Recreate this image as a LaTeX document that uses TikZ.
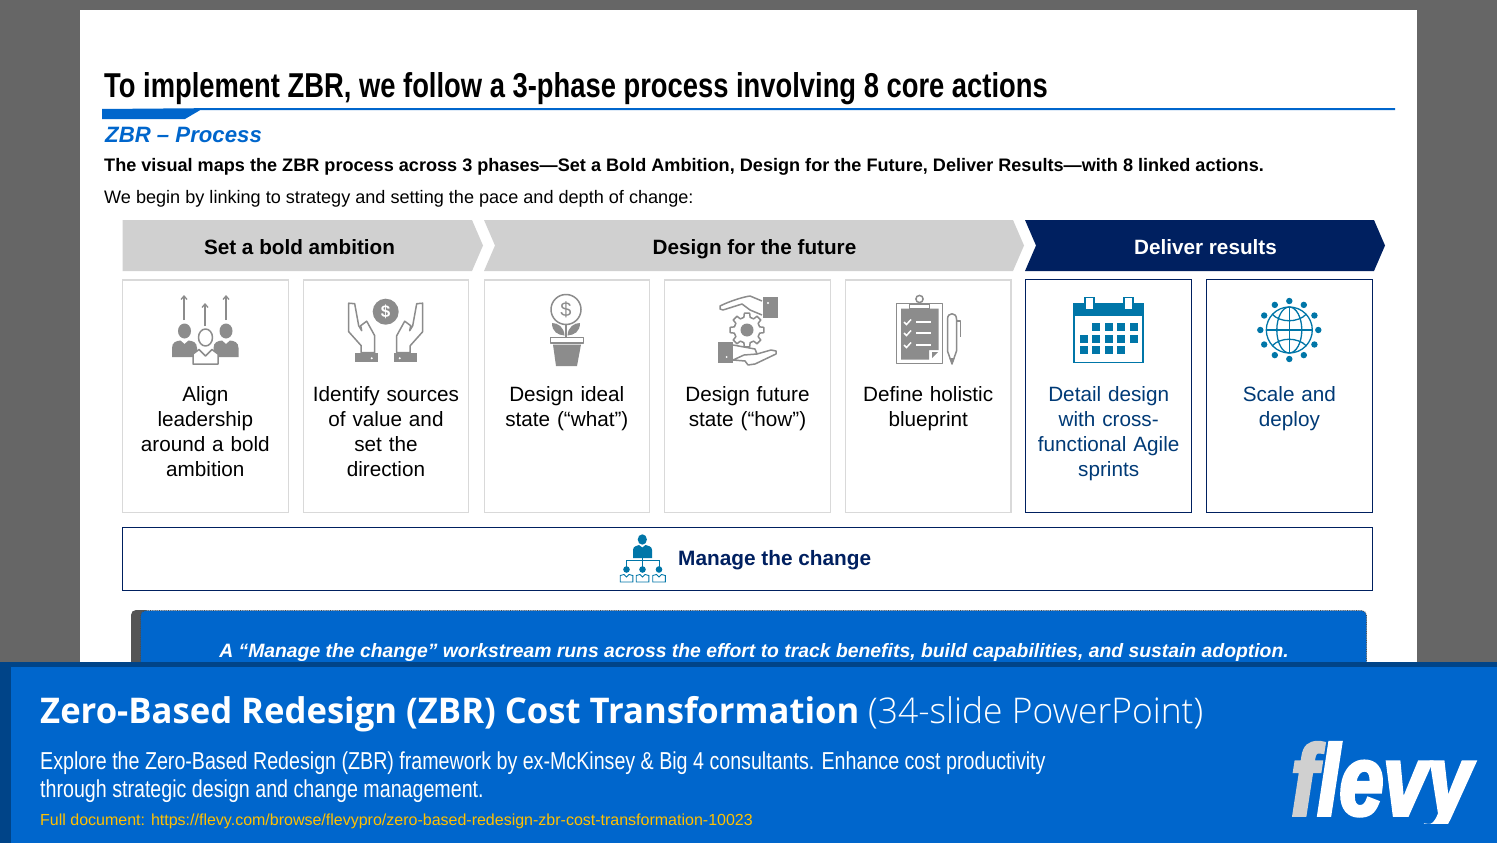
\documentclass[tikz,border=0pt]{standalone}
\usepackage{fontspec}
\setmainfont{Liberation Sans}
\newfontfamily\titlefont[FakeStretch=0.793]{Liberation Sans}
\newfontfamily\narrowfont[FakeStretch=0.802]{Liberation Sans}
\newfontfamily\lightfont[UprightFont=* Light]{Open Sans}
\newfontfamily\bannerfont[FakeStretch=0.979]{Open Sans}
\newfontfamily\logofont[FakeStretch=0.79,FakeBold=3.5]{Liberation Sans}
\usetikzlibrary{arrows.meta}

\definecolor{slidegray}{HTML}{666666}
\definecolor{flevyblue}{HTML}{0066CC}
\definecolor{flevydark}{HTML}{004488}
\definecolor{phasegray}{HTML}{D0D0D0}
\definecolor{navyblue}{HTML}{002060}
\definecolor{cardgray}{HTML}{D9D9D9}
\definecolor{icongray}{HTML}{8C8C8C}
\definecolor{iconteal}{HTML}{0076A8}
\definecolor{linkyellow}{HTML}{FFC000}

\tikzset{
  phasetext/.style={font=\bfseries\fontsize{20.7}{25}\selectfont, inner sep=0pt, anchor=base},
  card/.style={draw=cardgray, line width=1.1pt, fill=white, minimum width=165.5pt, minimum height=232.5pt, inner sep=0pt},
  bluecard/.style={card, draw=navyblue, line width=1pt},
  cardtext/.style={font=\fontsize{20.7}{25}\selectfont, text width=160pt, align=center, anchor=north, inner sep=0pt},
  bluetext/.style={cardtext, text=navyblue!70!iconteal},
  plaintext/.style={anchor=base west, inner sep=0pt},
  grayline/.style={draw=icongray, line width=1.5pt, line join=round},
  tealline/.style={draw=iconteal, line width=1.3pt},
  hand/.pic={
    \draw[grayline, fill=white] (-37,-8.5) -- (-37,20) -- (-24.5,34) -- (-24.5,41) -- (-11,41) -- (-11,24) -- (-19,9.5)
       -- (-25,14) -- (-24,19) -- (-27,14) -- (-31,-8) -- cycle;
    \fill[icongray] (-31,41.5) rectangle (-8,50.5);
    \fill[white] (-14,46.5) circle (1.1);
  },
}

\begin{document}
\begin{tikzpicture}[x=1pt,y=-1pt]
\useasboundingbox (0,0) rectangle (1497,843);

%% Slide %%%%%%%%%%%%%%%%%%%%%%%
\fill[slidegray] (0,0) rectangle (1497,843);
\fill[white] (80,10) rectangle (1417,670);

\node[plaintext, font=\titlefont\bfseries\fontsize{34.5}{40}\selectfont] (title) at (104,97) {To implement ZBR, we follow a 3-phase process involving 8 core actions};
\fill[flevyblue] (102,109) -- (200,108.2) -- (1395,108.2) -- (1395,110) -- (200,110.2) -- (185,119) -- (102,119) -- cycle;
\node[plaintext, font=\bfseries\itshape\fontsize{22.2}{28}\selectfont, text=flevyblue] (subtitle) at (105,142) {ZBR – Process};
\node[plaintext, font=\bfseries\fontsize{18.1}{22}\selectfont] (summary) at (104,171) {The visual maps the ZBR process across 3 phases—Set a Bold Ambition, Design for the Future, Deliver Results—with 8 linked actions.};
\node[plaintext, font=\fontsize{18.1}{22}\selectfont] (intro) at (104,203) {We begin by linking to strategy and setting the pace and depth of change:};

%% Phases
\fill[phasegray] (122.5,220) -- (472,220) -- (483,245.5) -- (472,271) -- (122.5,271) -- cycle;
\fill[phasegray] (484,220) -- (1013,220) -- (1024,245.5) -- (1013,271) -- (484,271) -- (495,245.5) -- cycle;
\fill[navyblue] (1025,220) -- (1374,220) -- (1385,245.5) -- (1374,271) -- (1025,271) -- (1036,245.5) -- cycle;
\node[phasetext] (bold) at (299.5,254) {Set a bold ambition};
\node[phasetext] (design) at (754.5,254) {Design for the future};
\node[phasetext, text=white] (deliver) at (1205.5,254) {Deliver results};

%% Cards
\node[card] (align) at (205.3,396.2) {};
\node[card] (identify) at (386,396.2) {};
\node[card] (ideal) at (566.8,396.2) {};
\node[card] (future) at (747.5,396.2) {};
\node[card] (define) at (928.2,396.2) {};
\node[bluecard] (detail) at (1108.7,396.2) {};
\node[bluecard] (scale) at (1289.4,396.2) {};

\node[cardtext] (aligntext) at (205.3,386) {Align\\leadership\\around a bold\\ambition};
\node[cardtext] (identifytext) at (386,386) {Identify sources\\of value and\\set the\\direction};
\node[cardtext] (idealtext) at (566.8,386) {Design ideal\\state (“what”)};
\node[cardtext] (futuretext) at (747.5,386) {Design future\\state (“how”)};
\node[cardtext] (definetext) at (928.2,386) {Define holistic\\blueprint};
\node[bluetext] (detailtext) at (1108.7,386) {Detail design\\with cross-\\functional Agile\\sprints};
\node[bluetext] (scaletext) at (1289.4,386) {Scale and\\deploy};

%% Icon people
\foreach \xpos/\ytop/\ybot in {184/295/320,205/303/326,226/295/320}
  \draw[icongray, line width=1.3pt, -{Straight Barb[length=3.5pt,width=6pt]}] (\xpos,\ybot) -- (\xpos,\ytop);
\foreach \xpos in {184.5,226} {
  \fill[icongray] (\xpos,331) ellipse (6.5 and 7.5);
  \fill[icongray] (\xpos-12.5,357) -- (\xpos-12.5,348) .. controls (\xpos-12.5,342) and (\xpos-8,341) .. (\xpos-4,340.5) -- (\xpos,344) -- (\xpos+4,340.5) .. controls (\xpos+8,341) and (\xpos+12.5,342) .. (\xpos+12.5,348) -- (\xpos+12.5,357) -- cycle;
}
\draw[grayline, fill=white] (193,364) -- (193,354) -- (199,349.5) -- (205.5,356) -- (212,349.5) -- (218,354) -- (218,364) -- cycle;
\draw[grayline, fill=white] (205.5,337.5) ellipse (7 and 8.5);

%% Icon hands
\fill[icongray] (385.7,311.7) circle (13);
\node[font=\bfseries\fontsize{17}{17}\selectfont, text=white, inner sep=0pt] (dollar) at (385.7,311.7) {\$};
\pic at (385.7,311.7) {hand};
\pic[xscale=-1] at (385.7,311.7) {hand};

%% Icon plant
\draw[grayline, fill=white] (566,309.5) circle (15);
\node[font=\fontsize{20}{20}\selectfont, text=icongray, inner sep=0pt] (plantdollar) at (566,309.5) {\$};
\draw[grayline] (566,324.5) -- (566,337);
\fill[icongray] (552,323) .. controls (558,323) and (564,327) .. (564.5,335.5) .. controls (558,335) and (552,332) .. cycle;
\fill[icongray] (580,323) .. controls (574,323) and (568,327) .. (567.5,335.5) .. controls (574,335) and (580,332) .. cycle;
\draw[grayline, line width=1.2pt] (550.5,337.5) rectangle (583.5,343);
\fill[icongray] (553,344.5) -- (581,344.5) -- (577,366) -- (556,366) -- cycle;

%% Icon gear
\fill[icongray] (763,297) rectangle (778,318);
\fill[white] (768,303) circle (1.1);
\draw[grayline] (762,301) -- (750,296) .. controls (743,297) and (730,301) .. (720,306) -- (720,309) -- (723,310) -- (742,304) -- (750,310) -- (762,315);
\fill[icongray] (718,342) rectangle (733,363);
\fill[white] (726.6,357) circle (1.1);
\draw[grayline] (733,345) -- (755,349) -- (757,354) -- (744,355) -- (733,360) -- (745,361) -- (748,365) -- (755,364) -- (776,354) -- (776,351) -- (771,350) -- (757,354);
\draw[grayline, shift={(747,330)}] (-14:13) \foreach \ang in {0,45,...,315} { -- (\ang-14:13) -- (\ang-9:17) -- (\ang+9:17) -- (\ang+14:13) } -- cycle;
\fill[icongray] (747,330) circle (6.5);

%% Icon blueprint
\draw[grayline, line width=1.6pt] (896.5,303.5) rectangle (942.5,363.5);
\fill[icongray] (901,308.5) -- (938.5,308.5) -- (938.5,350) -- (929,350) -- (929,359.5) -- (901,359.5) -- cycle;
\fill[icongray] (932,352) -- (938,352) -- (932,358) -- cycle;
\draw[grayline, fill=white] (919.5,299) circle (3.6);
\draw[grayline, fill=white] (909.5,309) -- (909.5,304) -- (929.5,304) -- (929.5,309) -- cycle;
\foreach \ypos in {322,333,345} {
  \draw[white, line width=1.5pt] (904,\ypos) -- (906.5,\ypos+2.5) -- (911,\ypos-2.5);
  \draw[white, line width=1.5pt] (916,\ypos) -- (931,\ypos);
}
\draw[grayline] (947.5,351) -- (947.5,319) .. controls (947.5,312) and (956.5,312) .. (956.5,319) -- (956.5,351) -- (952,364) -- cycle;
\draw[grayline] (956.5,321) -- (960.5,321) -- (960.5,337);
\fill[icongray] (949.5,358) -- (954.5,358) -- (952,364) -- cycle;

%% Icon calendar
\draw[iconteal, line width=1.5pt, fill=white] (1073.8,304) rectangle (1143.2,362.3);
\fill[iconteal] (1073,303) rectangle (1144,316);
\foreach \xpos in {1085,1124}
  \draw[iconteal, line width=1.3pt, fill=white] (\xpos,297.5) rectangle (\xpos+9,309.5);
\foreach \xpos/\ypos in {1096/327,1109/327,1121/327,1134/327,1084/339,1096/339,1109/339,1121/339,1134/339,1084/350,1096/350,1109/350,1121/350}
  \fill[iconteal] (\xpos-4,\ypos-4) rectangle (\xpos+4,\ypos+4);

%% Icon globe
\foreach \ang in {0,30,...,330}
  \fill[iconteal] (1289.3,330) ++(\ang:29) circle (3.2);
\draw[tealline] (1289.3,330) circle (23);
\draw[tealline] (1289.3,330) ellipse (12.5 and 23);
\draw[tealline] (1289.3,307) -- (1289.3,353);
\draw[tealline] (1266.3,330) -- (1312.3,330);
\draw[tealline] (1272,314) .. controls (1280,323) and (1298,323) .. (1306.5,314);
\draw[tealline] (1272,346) .. controls (1280,337) and (1298,337) .. (1306.5,346);

%% Manage the change
\node[draw=navyblue, line width=1pt, fill=white, minimum width=1249.5pt, minimum height=63.5pt, inner sep=0pt] (manage) at (747.3,559) {};
\node[font=\bfseries\fontsize{20.8}{25}\selectfont, text=navyblue, inner sep=0pt, anchor=base west] (managetext) at (678,565) {Manage the change};
\fill[iconteal] (642.3,539.5) ellipse (4.6 and 5.2);
\fill[iconteal] (633,558) -- (633,550) .. controls (633,546) and (637,546) .. (639,545) -- (642.3,547.5) -- (645.5,545) .. controls (648,546) and (652,546) .. (652,550) -- (652,558) -- cycle;
\draw[iconteal, line width=.9pt] (642.3,558) -- (642.3,567);
\draw[iconteal, line width=.9pt] (626.5,567) -- (626.5,560.5) -- (659,560.5) -- (659,567);
\foreach \xpos in {626.5,642.5,659} {
  \fill[iconteal] (\xpos,569.5) circle (3.3);
  \draw[iconteal, line width=.9pt, fill=white] (\xpos-6.3,582) -- (\xpos-6.3,575.5) -- (\xpos-2.5,574.5) -- (\xpos,577) -- (\xpos+2.5,574.5) -- (\xpos+6.3,575.5) -- (\xpos+6.3,582) -- cycle;
}

%% Callout
\fill[black!67, rounded corners=5pt] (131,610) rectangle (150,680);
\draw[black!70, densely dotted, fill=flevyblue, rounded corners=5pt, line width=.8pt] (140.5,610.5) rectangle (1366.5,680);
\node[font=\bfseries\itshape\fontsize{19.35}{24}\selectfont, text=white, inner sep=0pt, anchor=base] (callout) at (754,657) {A “Manage the change” workstream runs across the effort to track benefits, build capabilities, and sustain adoption.};

%% Banner
\fill[flevyblue] (0,662) rectangle (1497,843);
\fill[flevydark] (0,662) rectangle (1497,667);
\fill[flevydark] (0,662) rectangle (11,843);

\node[plaintext, font=\bannerfont\bfseries\fontsize{35.4}{40}\selectfont, text=white] (banner) at (40,723.5) {Zero-Based Redesign (ZBR) Cost Transformation};
\node[plaintext, font=\lightfont\fontsize{35.4}{40}\selectfont, text=white] (bannerlight) at (868,723.5) {(34-slide PowerPoint)};
\node[plaintext, font=\narrowfont\fontsize{24.5}{28}\selectfont, text=white] (desca) at (40,769) {Explore the Zero-Based Redesign (ZBR) framework by ex-McKinsey \& Big 4 consultants. Enhance cost productivity};
\node[plaintext, font=\narrowfont\fontsize{24.5}{28}\selectfont, text=white] (descb) at (40,797) {through strategic design and change management.};
\node[plaintext, font=\fontsize{16}{20}\selectfont, text=linkyellow] (link) at (40,825) {Full document: https://flevy.com/browse/flevypro/zero-based-redesign-zbr-cost-transformation-10023};

\begin{scope}
\clip (1280,735) rectangle (1497,823);
\node[plaintext, font=\logofont\bfseries\itshape\fontsize{100}{100}\selectfont, text=white] (logo) at (1291,815) {\textcolor{phasegray}{f}levy};
\end{scope}

\end{tikzpicture}
\end{document}
